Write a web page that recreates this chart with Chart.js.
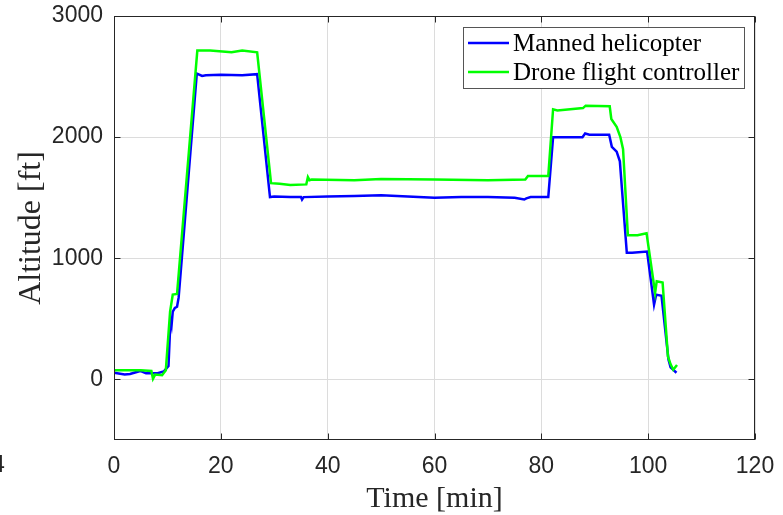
<!DOCTYPE html>
<html>
<head>
<meta charset="utf-8">
<script src="https://cdn.jsdelivr.net/npm/chart.js@4.4.1/dist/chart.umd.min.js"></script>
<style>
  html, body { margin: 0; padding: 0; background: #fff; }
  #wrap { width: 783px; height: 515px; position: relative; }
</style>
</head>
<body>
<div id="wrap"><canvas id="altChart"></canvas></div>
<script>
// Manned helicopter altitude (ft) vs time (min)
const heliTime = [0, 2, 3, 4.9, 6, 8, 9.3, 10.2, 10.6, 10.8, 11.0, 11.4, 11.8, 12.1, 15.5, 16.5, 17.2, 20, 24, 26.8,
  29.2, 30, 33, 35.0, 35.2, 35.5, 40, 45, 50, 55, 60, 65, 70, 75, 76.8, 77.2, 78, 81.3,
  82.2, 85, 87.7, 88.2, 89, 92.7, 93.2, 94.1, 94.7, 96.0, 97, 99.8, 101.1, 101.5, 102.5,
  103.8, 104.2, 105.3];
const heliAlt = [55, 40, 45, 70, 50, 50, 65, 110, 520, 460, 560, 590, 600, 675, 2525, 2505, 2510, 2515, 2510, 2520,
  1505, 1510, 1505, 1505, 1485, 1505, 1510, 1515, 1520, 1510, 1500, 1505, 1505, 1500, 1485, 1495, 1505, 1505,
  2000, 2000, 2000, 2030, 2020, 2020, 1920, 1880, 1800, 1045, 1045, 1056, 617, 700, 690,
  165, 100, 55];

// Drone flight controller altitude (ft) vs time (min)
const droneTime = [0, 3, 5, 7.0, 7.3, 7.7, 9.0, 9.7, 10.5, 11.0, 11.8, 15.6, 18, 22, 24, 26.8,
  29.4, 31, 33, 36.0, 36.3, 36.6, 37, 45, 50, 60, 70, 77, 77.5, 81.3,
  82.2, 83, 87.8, 88.3, 92.8, 93.1, 94.1, 94.8, 95.3, 96.2, 98, 99.7, 101.3, 101.6, 102.7,
  103.7, 104.2, 104.7, 105.4];
const droneAlt = [75, 75, 75, 70, 5, 40, 35, 75, 560, 700, 705, 2715, 2715, 2700, 2715, 2700,
  1620, 1615, 1605, 1610, 1670, 1645, 1650, 1645, 1655, 1650, 1645, 1650, 1680, 1680,
  2230, 2220, 2240, 2260, 2255, 2150, 2085, 2000, 1900, 1190, 1190, 1207, 715, 810, 800,
  190, 125, 80, 120];

const xTicks = [0, 20, 40, 60, 80, 100, 120];
const yTicks = [0, 1000, 2000, 3000];

const seriesNames = ['Manned helicopter', 'Drone flight controller'];
const seriesColors = ['#0000ff', '#00ff00'];

const toPoints = (xs, ys) => xs.map((x, i) => ({ x: x, y: ys[i] }));

// Frame, inward tick marks and the in-plot legend (MATLAB style)
const matlabBox = {
    id: 'matlabBox',
    afterDraw(chart) {
        const ctx = chart.ctx;
        const a = chart.chartArea;
        const xs = chart.scales.x;
        const ys = chart.scales.y;
        ctx.save();
        ctx.strokeStyle = '#262626';
        ctx.lineWidth = 1;
        const L = Math.round(a.left) + 0.5, R = Math.round(a.right) - 0.5;
        const T = Math.round(a.top) + 0.5, B = Math.round(a.bottom) - 0.5;
        ctx.strokeRect(L, T, R - L, B - T);
        const tl = 6;
        ctx.beginPath();
        xTicks.forEach(v => {
            const px = Math.round(xs.getPixelForValue(v)) + 0.5;
            ctx.moveTo(px, B); ctx.lineTo(px, B - tl);
            ctx.moveTo(px, T); ctx.lineTo(px, T + tl);
        });
        yTicks.forEach(v => {
            const py = Math.round(ys.getPixelForValue(v)) + 0.5;
            ctx.moveTo(L, py); ctx.lineTo(L + tl, py);
            ctx.moveTo(R, py); ctx.lineTo(R - tl, py);
        });
        ctx.stroke();

        // legend
        const bx = 463.5, by = 27.5, bw = 281, bh = 61;
        ctx.fillStyle = '#fff';
        ctx.fillRect(bx, by, bw, bh);
        ctx.strokeStyle = '#555';
        ctx.strokeRect(bx, by, bw, bh);
        ctx.font = '25px "Liberation Serif", "Times New Roman", serif';
        ctx.textBaseline = 'middle';
        ctx.textAlign = 'left';
        const rows = [43, 72];
        seriesNames.forEach((name, i) => {
            ctx.strokeStyle = seriesColors[i];
            ctx.lineWidth = 2.5;
            ctx.beginPath();
            ctx.moveTo(468, rows[i]);
            ctx.lineTo(509, rows[i]);
            ctx.stroke();
            ctx.fillStyle = '#000';
            ctx.fillText(name, 513, rows[i] + 1);
        });

        // clipped label fragment at the lower left edge
        ctx.fillStyle = '#262626';
        ctx.font = '23px "Liberation Sans", Arial, sans-serif';
        ctx.textAlign = 'left';
        ctx.fillText('4', -8, 466);
        ctx.restore();
    }
};

function createChart() {
    const ctx = document.getElementById('altChart').getContext('2d');
    new Chart(ctx, {
        type: 'line',
        data: {
            datasets: [
                {
                    // drawn on top
                    label: seriesNames[1],
                    data: toPoints(droneTime, droneAlt),
                    borderColor: seriesColors[1],
                    backgroundColor: seriesColors[1],
                    borderWidth: 2.5,
                    pointRadius: 0,
                    tension: 0,
                    fill: false
                },
                {
                    label: seriesNames[0],
                    data: toPoints(heliTime, heliAlt),
                    borderColor: seriesColors[0],
                    backgroundColor: seriesColors[0],
                    borderWidth: 2.5,
                    pointRadius: 0,
                    tension: 0,
                    fill: false
                }
            ]
        },
        options: {
            responsive: true,
            maintainAspectRatio: false,
            animation: false,
            layout: { padding: { left: 0, right: 28, top: 16, bottom: 0 } },
            plugins: {
                legend: { display: false },
                tooltip: { enabled: false },
                title: { display: false }
            },
            scales: {
                x: {
                    type: 'linear',
                    min: 0,
                    max: 120,
                    afterBuildTicks: s => { s.ticks = xTicks.map(v => ({ value: v })); },
                    afterFit: s => { s.height = 75; s.paddingLeft = 0; s.paddingRight = 0; },
                    ticks: {
                        color: '#262626',
                        font: { family: '"Liberation Sans", Arial, sans-serif', size: 23 },
                        padding: 13,
                        maxRotation: 0,
                        callback: v => String(v)
                    },
                    grid: { color: '#dcdcdc', lineWidth: 1, drawTicks: false },
                    border: { display: false },
                    title: {
                        display: true,
                        text: 'Time [min]',
                        color: '#262626',
                        font: { family: '"Liberation Serif", "Times New Roman", serif', size: 30 },
                        padding: { top: 0, bottom: -2 }
                    }
                },
                y: {
                    type: 'linear',
                    min: -500,
                    max: 3000,
                    afterBuildTicks: s => { s.ticks = yTicks.map(v => ({ value: v })); },
                    afterFit: s => { s.width = 114; s.paddingTop = 0; s.paddingBottom = 0; },
                    ticks: {
                        color: '#262626',
                        font: { family: '"Liberation Sans", Arial, sans-serif', size: 23 },
                        padding: 11,
                        callback: v => String(v)
                    },
                    grid: { color: '#dcdcdc', lineWidth: 1, drawTicks: false },
                    border: { display: false },
                    title: {
                        display: true,
                        text: 'Altitude [ft]',
                        color: '#262626',
                        font: { family: '"Liberation Serif", "Times New Roman", serif', size: 32 },
                        padding: { top: 12, bottom: 0 }
                    }
                }
            }
        },
        plugins: [matlabBox]
    });
}

window.addEventListener('load', createChart);
</script>
</body>
</html>
